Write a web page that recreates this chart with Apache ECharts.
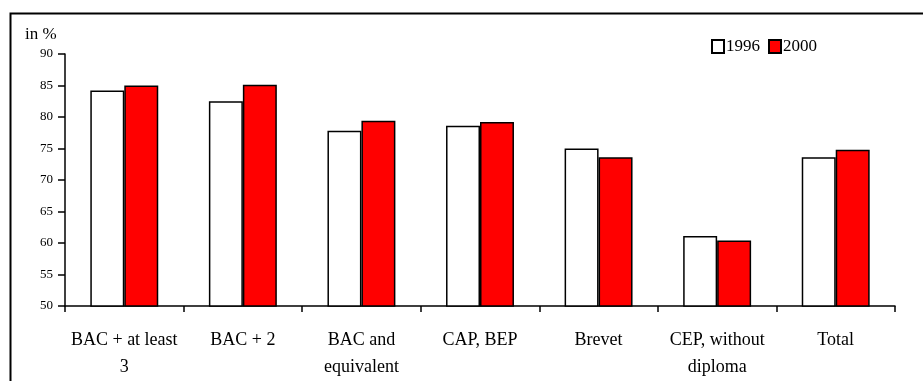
<!DOCTYPE html>
<html>
<head>
<meta charset="utf-8">
<script src="https://cdn.jsdelivr.net/npm/echarts@6/dist/echarts.min.js"></script>
<style>html,body{margin:0;padding:0;background:#fff;}#c{width:923px;height:381px;}</style>
</head>
<body>
<div id="c"></div>
<script>
var categories = ["BAC + at least\n3", "BAC + 2", "BAC and\nequivalent", "CAP, BEP", "Brevet", "CEP, without\ndiploma", "Total"];
var values1996 = [84.2, 82.5, 77.8, 78.6, 75.0, 61.1, 73.6];
var values2000 = [85.0, 85.1, 79.4, 79.2, 73.6, 60.4, 74.8];
var yTicks = [50, 55, 60, 65, 70, 75, 80, 85, 90];
var seriesNames = ["1996", "2000"];

var font = "'Liberation Serif', 'Times New Roman', serif";
var chart = echarts.init(document.getElementById('c'));
chart.setOption({
  animation: false,
  backgroundColor: '#fff',
  graphic: [{
    type: 'rect', left: 8, top: 11,
    shape: { width: 1000, height: 400 },
    style: { fill: 'none', stroke: '#000', lineWidth: 2 }, z: 100
  }, {
    type: 'text', left: 25, top: 26,
    style: { text: 'in %', font: '17px ' + font, fill: '#000' }
  }],
  legend: {
    data: seriesNames,
    left: 706, top: 33,
    itemWidth: 12, itemHeight: 13, itemGap: 8,
    icon: 'rect',
    textStyle: { fontFamily: font, fontSize: 17, color: '#000', padding: [0, 0, 0, -3] }
  },
  grid: { left: 65, right: 28, top: 54, bottom: 74.3, containLabel: false },
  xAxis: {
    type: 'category', data: categories,
    axisLine: { lineStyle: { color: '#000', width: 1.5 } },
    axisTick: { show: true, length: 6, lineStyle: { color: '#000', width: 1.5 } },
    axisLabel: { interval: 0, margin: 21, fontFamily: font, fontSize: 18, color: '#000', lineHeight: 27 }
  },
  yAxis: {
    type: 'value', min: 50, max: 90, interval: 5,
    axisLine: { show: true, lineStyle: { color: '#000', width: 1.5 } },
    axisTick: { show: true, length: 7, lineStyle: { color: '#000', width: 1.5 } },
    axisLabel: { margin: 12, fontFamily: font, fontSize: 13, color: '#000',
      formatter: function (v) { return yTicks.indexOf(v) >= 0 ? String(v) : ''; } },
    splitLine: { show: false }
  },
  series: [{
    name: seriesNames[0], type: 'bar', data: values1996,
    barGap: '0%', barCategoryGap: '42.7%',
    itemStyle: { color: '#fff', borderColor: '#000', borderWidth: 1.5 }
  }, {
    name: seriesNames[1], type: 'bar', data: values2000,
    itemStyle: { color: '#ff0000', borderColor: '#000', borderWidth: 1.5 }
  }]
});
</script>
</body>
</html>
